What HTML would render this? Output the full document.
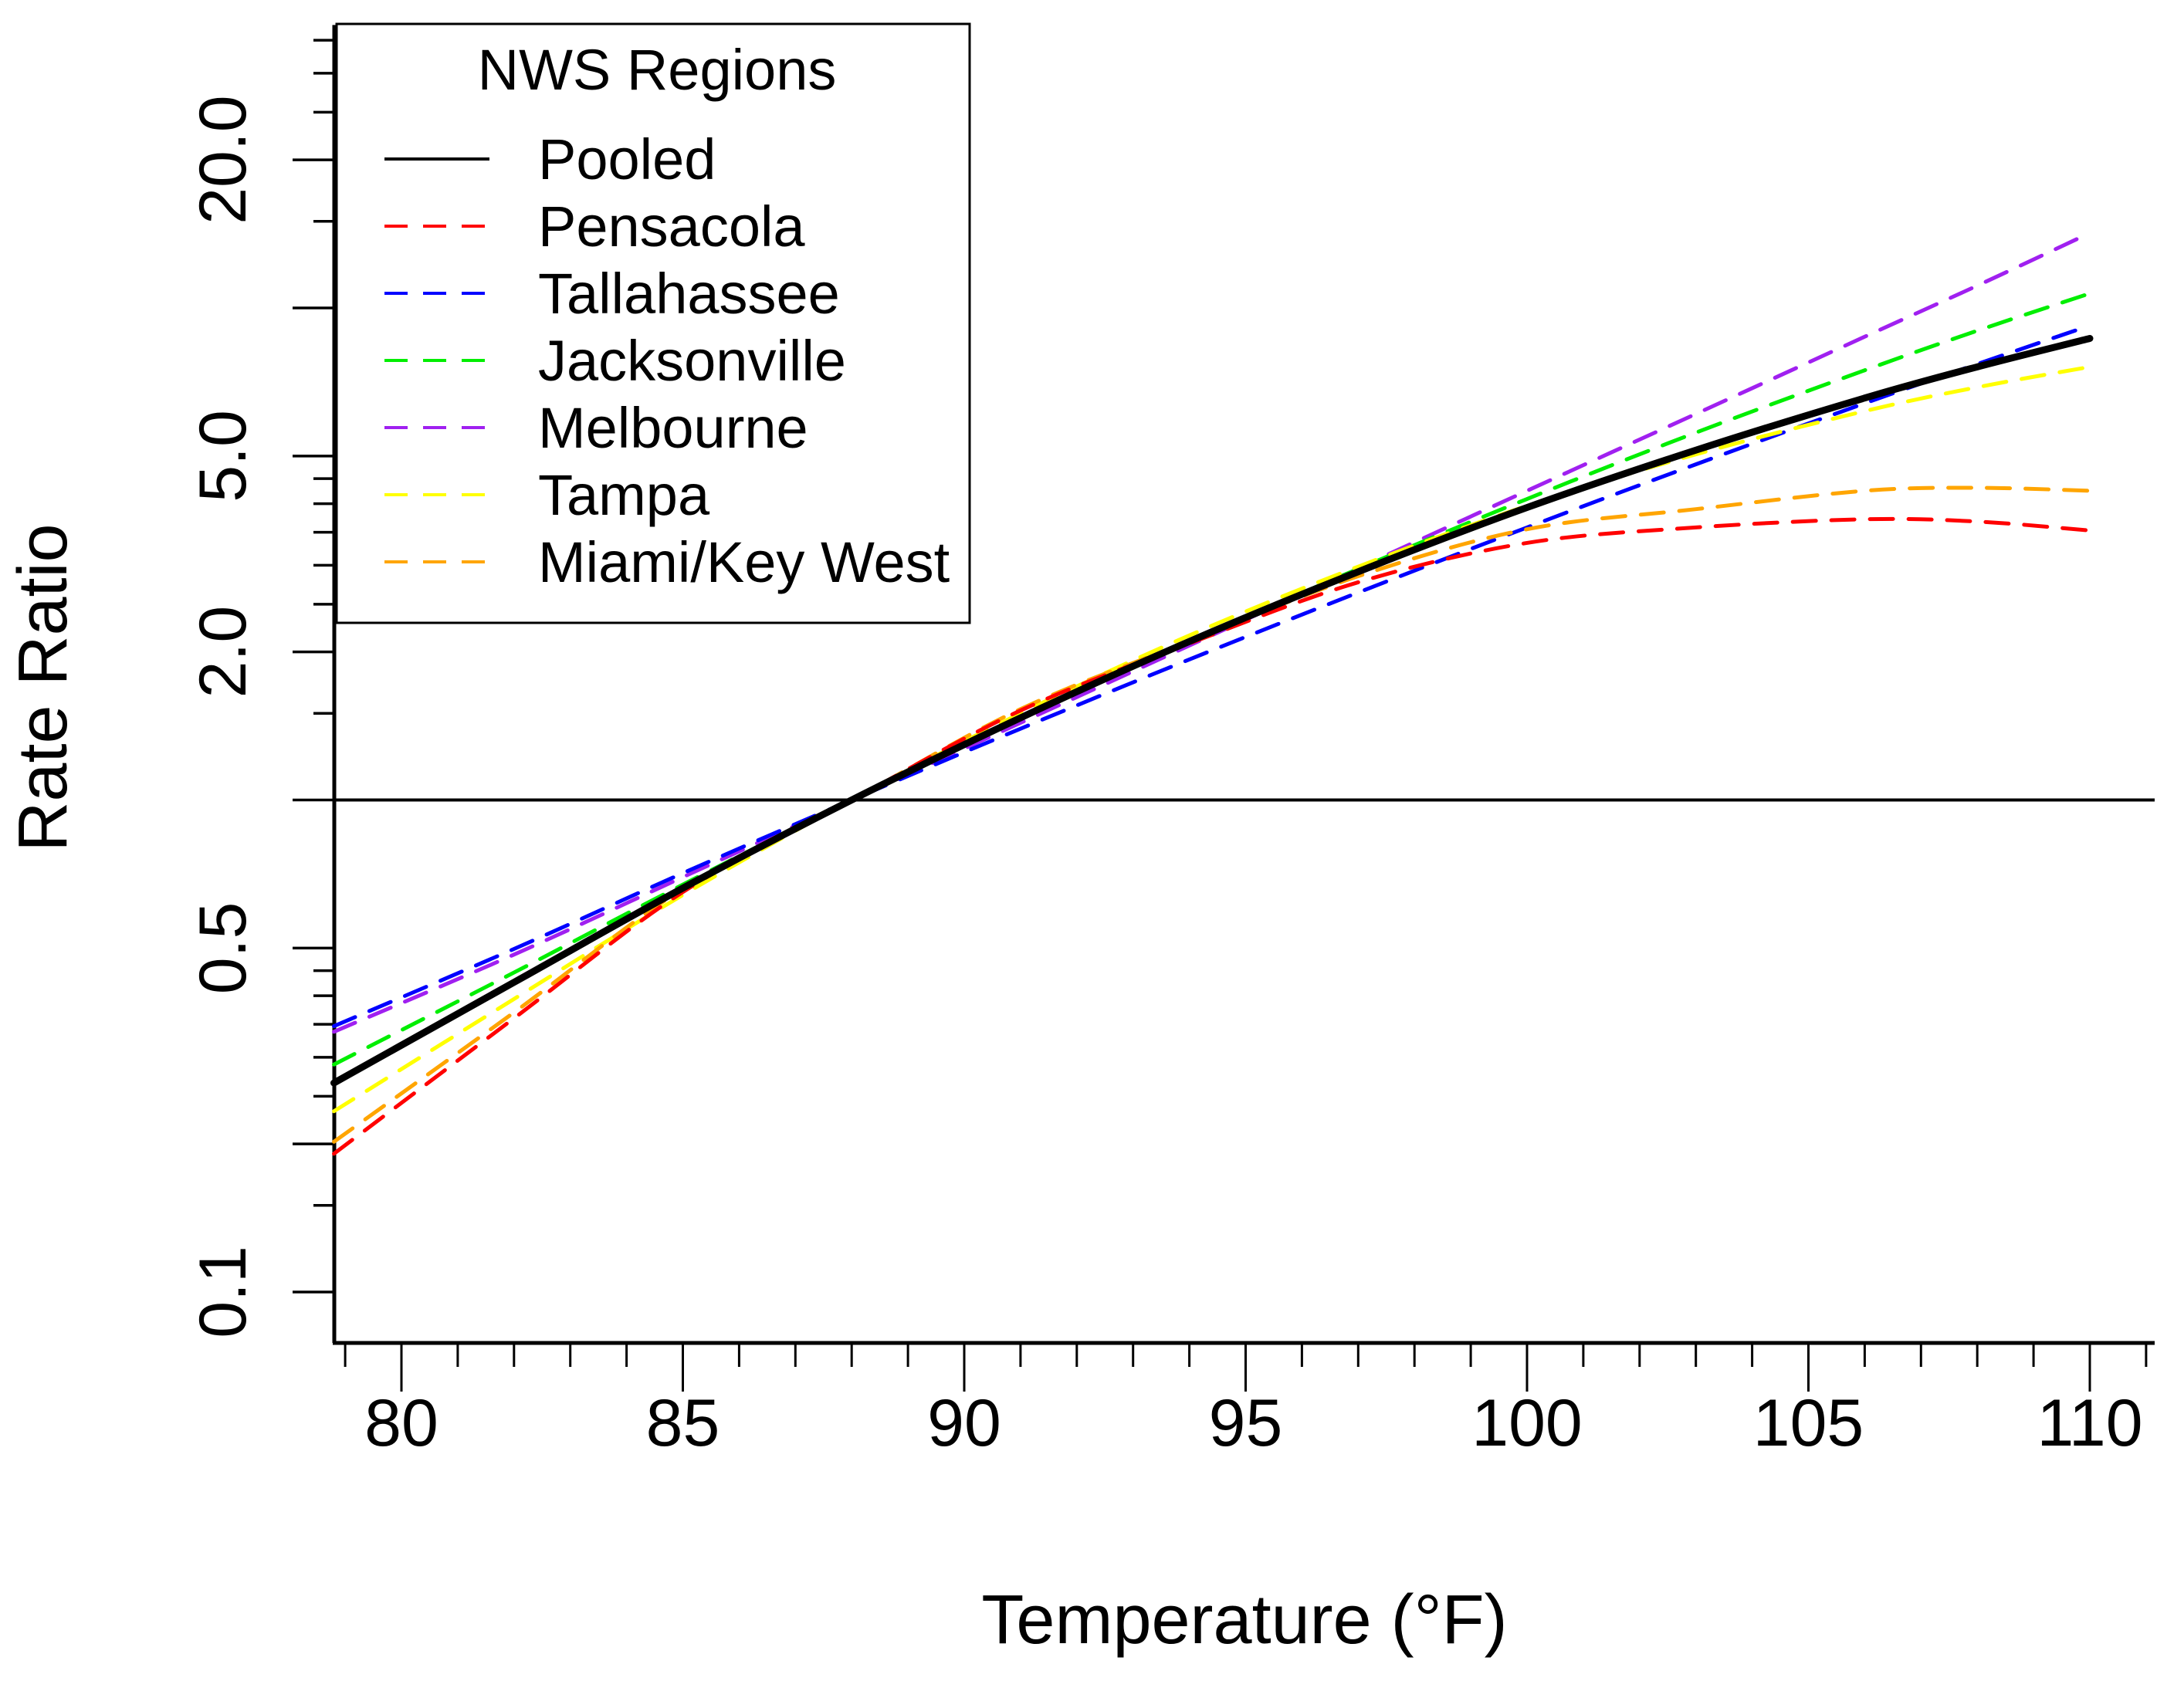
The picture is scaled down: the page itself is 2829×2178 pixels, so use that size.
<!DOCTYPE html>
<html><head><meta charset="utf-8"><style>html,body{margin:0;padding:0;background:#fff}svg{display:block}text{font-family:"Liberation Sans",Arial,sans-serif}</style></head>
<body>
<svg id="chart" width="2829" height="2178" viewBox="0 0 2829 2178" xmlns="http://www.w3.org/2000/svg">
<g id="axes"></g>
<g id="series"></g>
<g id="legend"></g>
<text x="1612" y="2129" font-size="90" text-anchor="middle">Temperature (°F)</text>
<text x="0" y="0" font-size="90" text-anchor="middle" transform="translate(86,891) rotate(-90)">Rate Ratio</text>
</svg>
<script>
const temps = [78.8, 82, 85, 88, 91, 94, 97, 100, 103, 106, 108, 110];
const pooled = [0.266, 0.426, 0.662, 1, 1.469, 2.10, 2.91, 3.93, 5.14, 6.56, 7.59, 8.67];
const pensacola = [0.191, 0.36, 0.65, 1, 1.52, 2.08, 2.77, 3.33, 3.58, 3.72, 3.68, 3.53];
const tallahassee = [0.347, 0.498, 0.710, 1, 1.396, 1.93, 2.64, 3.58, 4.81, 6.40, 7.69, 9.21];
const jacksonville = [0.290, 0.446, 0.673, 1, 1.46, 2.09, 2.95, 4.09, 5.58, 7.47, 8.99, 10.7];
const melbourne = [0.338, 0.485, 0.697, 1, 1.435, 2.06, 2.96, 4.25, 6.09, 8.74, 11.1, 14.2];
const tampa = [0.233, 0.394, 0.641, 1, 1.50, 2.16, 2.98, 3.96, 5.04, 6.17, 6.90, 7.59];
const miami = [0.202, 0.37, 0.66, 1, 1.53, 2.1, 2.85, 3.55, 3.9, 4.25, 4.31, 4.25];
const xTicks = [79,80,81,82,83,84,85,86,87,88,89,90,91,92,93,94,95,96,97,98,99,100,101,102,103,104,105,106,107,108,109,110,111];
const xLabels = [80, 85, 90, 95, 100, 105, 110];
const yMajor = [0.1, 0.2, 0.5, 1, 2, 5, 10, 20];
const yMinor = [0.15, 0.25, 0.3, 0.35, 0.4, 0.45, 1.5, 2.5, 3, 3.5, 4, 4.5, 15, 25, 30, 35];
const yLabels = [0.1, 0.5, 2.0, 5.0, 20.0];

const NS = 'http://www.w3.org/2000/svg';
function X(t){ return 520 + (t - 80) * 72.9; }
function Y(v){ return 1036.5 - Math.log10(v) * 637.5; }
function mk(tag, attrs, parent){ const e = document.createElementNS(NS, tag); for (const k in attrs) e.setAttribute(k, attrs[k]); parent.appendChild(e); return e; }

const AXY = 1740, AXX = 433;
const axes = document.getElementById('axes');
let e;
e = mk('line', {x1:AXX, y1:Y(37.6), x2:AXX, y2:AXY, stroke:'#000', 'stroke-width':5}, axes);


e = mk('line', {x1:AXX-2, y1:AXY, x2:2791, y2:AXY, stroke:'#000', 'stroke-width':5}, axes);


e = mk('line', {x1:AXX, y1:Y(1), x2:2791, y2:Y(1), stroke:'#000', 'stroke-width':4}, axes);


xTicks.forEach(t => {
  const long = t % 5 === 0;
  e = mk('line', {x1:X(t), y1:AXY, x2:X(t), y2:AXY + (long ? 63 : 31), stroke:'#000', 'stroke-width':3}, axes);
  
  
});
xLabels.forEach(t => {
  e = mk('text', {x:X(t), y:1873, 'font-size':86, 'text-anchor':'middle'}, axes);
  e.textContent = t;
  
  
});
yMajor.forEach(v => {
  e = mk('line', {x1:AXX-54, y1:Y(v), x2:AXX, y2:Y(v), stroke:'#000', 'stroke-width':3.5}, axes);
  
  
});
yMinor.forEach(v => {
  e = mk('line', {x1:AXX-27, y1:Y(v), x2:AXX, y2:Y(v), stroke:'#000', 'stroke-width':3.5}, axes);
  
  
});
yLabels.forEach(v => {
  e = mk('text', {x:0, y:0, 'font-size':86, 'text-anchor':'middle', transform:`translate(318,${Y(v)}) rotate(-90)`}, axes);
  e.textContent = v.toFixed(1);
  
  
});

function pathFor(vals){
  const p = temps.map((t,i)=>[X(t), Y(vals[i])]);
  let d = `M${p[0][0]},${p[0][1]}`;
  for (let i=0;i<p.length-1;i++){
    const p0=p[Math.max(0,i-1)], p1=p[i], p2=p[i+1], p3=p[Math.min(p.length-1,i+2)];
    const c1=[p1[0]+(p2[0]-p0[0])/6, p1[1]+(p2[1]-p0[1])/6];
    const c2=[p2[0]-(p3[0]-p1[0])/6, p2[1]-(p3[1]-p1[1])/6];
    d += ` C${c1[0]},${c1[1]} ${c2[0]},${c2[1]} ${p2[0]},${p2[1]}`;
  }
  return d;
}
const series = document.getElementById('series');
const defs = [
  ['melbourne', melbourne, '#a020f0'],
  ['tallahassee', tallahassee, '#0000ff'],
  ['jacksonville', jacksonville, '#00ee00'],
  ['tampa', tampa, '#ffff00'],
  ['miami', miami, '#ffa500'],
  ['pensacola', pensacola, '#ff0000']
];
defs.forEach(d => {
  e = mk('path', {d:pathFor(d[1]), fill:'none', stroke:d[2], 'stroke-width':5, 'stroke-dasharray':'30 20', 'stroke-linecap':'round'}, series);
  
  
});
e = mk('path', {d:pathFor(pooled), fill:'none', stroke:'#000', 'stroke-width':9, 'stroke-linecap':'round'}, series);



const legend = document.getElementById('legend');
e = mk('rect', {x:436, y:31, width:820, height:776, fill:'#fff', stroke:'#000', 'stroke-width':3}, legend);


e = mk('text', {x:851, y:116, 'font-size':74, 'text-anchor':'middle'}, legend);
e.textContent = 'NWS Regions';


const legNames = ['Pooled','Pensacola','Tallahassee','Jacksonville','Melbourne','Tampa','Miami/Key West'];
const legColors = ['#000','#ff0000','#0000ff','#00ee00','#a020f0','#ffff00','#ffa500'];
legNames.forEach((n,i) => {
  const y = 206 + i*87;
  e = mk('line', {x1:498, y1:y, x2:634, y2:y, stroke:legColors[i], 'stroke-width':4, 'stroke-dasharray': i===0 ? 'none' : '30 20'}, legend);
  
  
  e = mk('text', {x:697, y:y+26, 'font-size':74}, legend);
  e.textContent = n;
  
  
});
</script>
</body></html>
